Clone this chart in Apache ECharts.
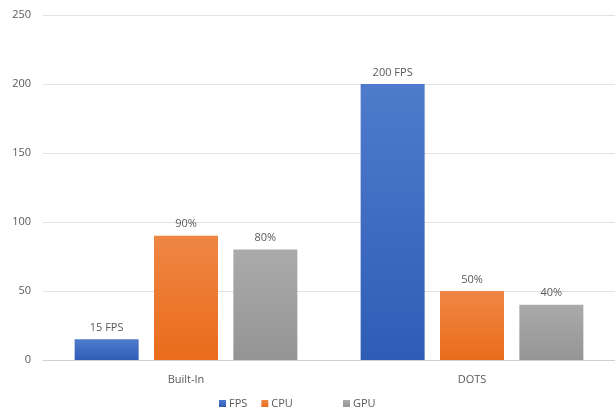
<!DOCTYPE html>
<html>
<head>
<meta charset="utf-8">
<script src="https://cdn.jsdelivr.net/npm/echarts@6/dist/echarts.min.js"></script>
<style>
  html, body { margin: 0; padding: 0; background: #fff; }
  #chart { width: 615px; height: 408px; }
</style>
</head>
<body>
<div id="chart"></div>
<script>
const categories = ["Built-In", "DOTS"];
const fpsValues = [15, 200];
const cpuValues = [90, 50];
const gpuValues = [80, 40];
const fpsLabels = ["15 FPS", "200 FPS"];
const cpuLabels = ["90%", "50%"];
const gpuLabels = ["80%", "40%"];

const font = "'Open Sans', 'Noto Sans', sans-serif";
const textColor = "#595959";

function grad(top, bottom) {
  return new echarts.graphic.LinearGradient(0, 0, 0, 1, [
    { offset: 0, color: top },
    { offset: 1, color: bottom },
  ]);
}

function makeSeries(name, values, labels, top, bottom) {
  return {
    name: name,
    type: "bar",
    barWidth: 64,
    barGap: "24%",
    data: values,
    itemStyle: { color: grad(top, bottom) },
    label: {
      show: true,
      position: "top",
      distance: 6,
      color: textColor,
      fontFamily: font,
      fontSize: 11,
      formatter: (p) => labels[p.dataIndex],
    },
  };
}

const chart = echarts.init(document.getElementById("chart"));

chart.setOption({
  animation: false,
  color: ["#3c67bd", "#ed7424", "#a0a0a0"],
  grid: { left: 43, right: 0, top: 15, bottom: 48 },
  legend: [
    {
      data: ["FPS", "CPU"],
      left: 214,
      top: 393,
      itemWidth: 7,
      itemHeight: 7,
      itemGap: 14,
      icon: "rect",
      textStyle: { color: textColor, fontFamily: font, fontSize: 11, padding: [0, 0, 0, -2] },
    },
    {
      data: ["GPU"],
      left: 338,
      top: 393,
      itemWidth: 7,
      itemHeight: 7,
      icon: "rect",
      textStyle: { color: textColor, fontFamily: font, fontSize: 11, padding: [0, 0, 0, -2] },
    },
  ],
  xAxis: {
    type: "category",
    data: categories,
    axisLine: { lineStyle: { color: "#d0d0d0" } },
    axisTick: { show: false },
    axisLabel: { color: textColor, fontFamily: font, fontSize: 11, margin: 14 },
  },
  yAxis: {
    type: "value",
    min: 0,
    max: 250,
    interval: 50,
    axisLine: { show: false },
    axisTick: { show: false },
    axisLabel: { color: textColor, fontFamily: font, fontSize: 11, margin: 12 },
    splitLine: { lineStyle: { color: "#e2e2e2" } },
  },
  series: [
    makeSeries("FPS", fpsValues, fpsLabels, "#4f7bcc", "#2f5db6"),
    makeSeries("CPU", cpuValues, cpuLabels, "#ef8644", "#ea6c1b"),
    makeSeries("GPU", gpuValues, gpuLabels, "#aaaaaa", "#959595"),
  ],
});
</script>
</body>
</html>
